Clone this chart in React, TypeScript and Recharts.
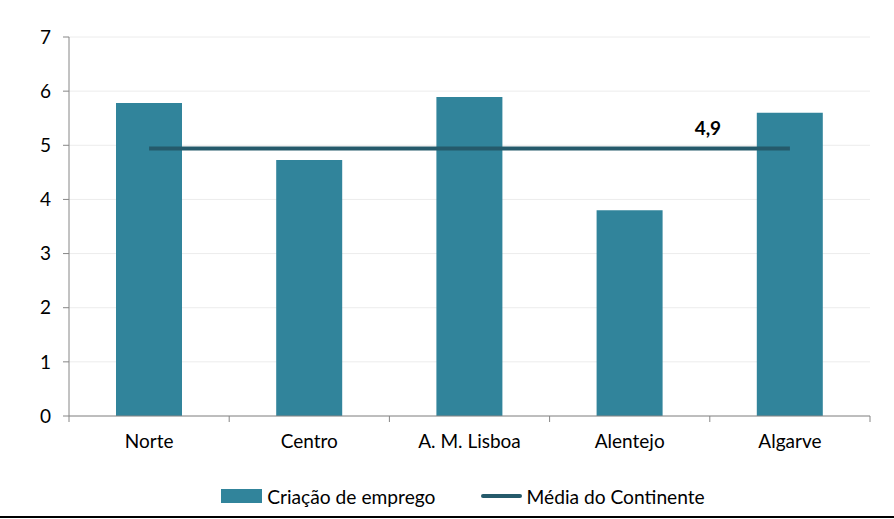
import {
	ComposedChart,
	Bar,
	Line,
	XAxis,
	YAxis,
	CartesianGrid,
	Legend,
	LabelList,
} from "recharts";

const regions = ["Norte", "Centro", "A. M. Lisboa", "Alentejo", "Algarve"];
const jobCreation = [5.78, 4.73, 5.89, 3.8, 5.6];
const mainlandAverage = [4.94, 4.94, 4.94, 4.94, 4.94];
const yTicks = [0, 1, 2, 3, 4, 5, 6, 7];

const data = regions.map((region, i) => ({
	region,
	emprego: jobCreation[i],
	media: mainlandAverage[i],
}));

const BAR_COLOR = "#31849b";
const LINE_COLOR = "#255a6b";
const AXIS_COLOR = "#868686";
const FONT = "Lato, 'Open Sans', sans-serif";

// category label plus Excel-style divider ticks between categories
function RegionTick(props: any) {
	const { x, y, payload, index } = props;
	const half = payload?.offset || 80;
	return (
		<g>
			<line x1={x - half} y1={y} x2={x - half} y2={y + 6} stroke={AXIS_COLOR} />
			{index === regions.length - 1 && (
				<line x1={x + half} y1={y} x2={x + half} y2={y + 6} stroke={AXIS_COLOR} />
			)}
			<text
				x={x}
				y={y + 19}
				dy="0.71em"
				textAnchor="middle"
				fontFamily={FONT}
				fontSize={19}
				fill="#000"
			>
				{payload.value}
			</text>
		</g>
	);
}

function AverageLabel(props: any) {
	const { x, y, index, value } = props;
	if (index !== regions.length - 1) return null;
	return (
		<text
			x={x - 82}
			y={y - 14}
			textAnchor="middle"
			fontFamily={FONT}
			fontSize={19}
			fontWeight="bold"
			fill="#000"
		>
			{Number(value).toFixed(1).replace(".", ",")}
		</text>
	);
}

function LegendContent() {
	return (
		<div
			style={{
				display: "flex",
				justifyContent: "center",
				alignItems: "center",
				height: 30,
				paddingLeft: 56,
				fontFamily: FONT,
				fontSize: 19.2,
				color: "#000",
			}}
		>
			<span style={{ display: "flex", alignItems: "center", marginRight: 45 }}>
				<span
					style={{ width: 41, height: 14, background: BAR_COLOR, marginRight: 5 }}
				/>
				Criação de emprego
			</span>
			<span style={{ display: "flex", alignItems: "center" }}>
				<span
					style={{
						width: 41,
						height: 4,
						borderRadius: 2,
						background: LINE_COLOR,
						marginRight: 5,
					}}
				/>
				Média do Continente
			</span>
		</div>
	);
}

export default function App() {
	return (
		<div
			style={{
				position: "absolute",
				left: 0,
				top: 0,
				width: 894,
				height: 519,
				background: "#fff",
			}}
		>
			<ComposedChart
				width={894}
				height={519}
				data={data}
				margin={{ top: 37, right: 24, left: 0, bottom: 33 }}
				barCategoryGap={47}
			>
				<CartesianGrid vertical={false} stroke="#ececec" />
				<XAxis
					dataKey="region"
					height={40}
					axisLine={{ stroke: AXIS_COLOR }}
					tickLine={false}
					tickSize={0}
					tickMargin={0}
					tick={<RegionTick />}
					interval={0}
				/>
				<YAxis
					width={69}
					domain={[0, 7]}
					ticks={yTicks}
					axisLine={{ stroke: AXIS_COLOR }}
					tickLine={{ stroke: AXIS_COLOR }}
					tickSize={6}
					tickMargin={12}
					tick={{ fill: "#000", fontSize: 19, fontFamily: FONT }}
				/>
				<Legend
					verticalAlign="bottom"
					content={<LegendContent />}
					wrapperStyle={{ bottom: 8 }}
				/>
				<Bar
					dataKey="emprego"
					fill={BAR_COLOR}
					isAnimationActive={false}
				/>
				<Line
					dataKey="media"
					stroke={LINE_COLOR}
					strokeWidth={4}
					dot={false}
					isAnimationActive={false}
				>
					<LabelList dataKey="media" content={<AverageLabel />} />
				</Line>
			</ComposedChart>
			<div
				style={{
					position: "absolute",
					left: 0,
					bottom: 1,
					width: 894,
					height: 2,
					background: "#000",
				}}
			/>
		</div>
	);
}
